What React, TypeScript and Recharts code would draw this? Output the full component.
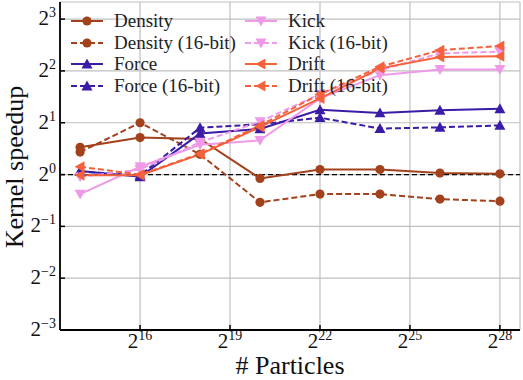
import React from 'react'
import {
  LineChart, Line, XAxis, YAxis, CartesianGrid, ReferenceLine, Legend,
} from 'recharts'

// particle counts, 2^14 ... 2^28
const particles = [16384, 65536, 262144, 1048576, 4194304, 16777216, 67108864, 268435456]

// kernel speedups
const density = [1.44, 1.64, 1.61, 0.95, 1.07, 1.07, 1.02, 1.01]
const density16 = [1.35, 2.0, 1.31, 0.69, 0.77, 0.77, 0.72, 0.70]
const force = [1.05, 0.97, 1.73, 1.84, 2.38, 2.28, 2.36, 2.41]
const force16 = [1.04, 0.99, 1.87, 1.96, 2.14, 1.85, 1.88, 1.93]
const kick = [0.77, 1.11, 1.49, 1.58, 2.77, 3.78, 4.08, 4.08]
const kick16 = [0.97, 1.07, 1.54, 2.03, 2.93, 4.03, 5.06, 5.17]
const drift = [0.99, 0.99, 1.31, 1.89, 2.77, 4.14, 4.82, 4.86]
const drift16 = [1.11, 1.0, 1.32, 1.93, 2.93, 4.23, 5.28, 5.58]

const xTicks = [65536, 524288, 4194304, 33554432, 268435456]
const yTicks = [0.125, 0.25, 0.5, 1, 2, 4, 8]

const FONT = '"Liberation Serif", "Times New Roman", serif'

type Shape = 'circle' | 'up' | 'down' | 'left'

const series: { key: string; name: string; color: string; dashed: boolean; shape: Shape }[] = [
  { key: 'density', name: 'Density', color: '#a3411d', dashed: false, shape: 'circle' },
  { key: 'density16', name: 'Density (16-bit)', color: '#a3411d', dashed: true, shape: 'circle' },
  { key: 'force', name: 'Force', color: '#3a1ca6', dashed: false, shape: 'up' },
  { key: 'force16', name: 'Force (16-bit)', color: '#3a1ca6', dashed: true, shape: 'up' },
  { key: 'kick', name: 'Kick', color: '#ef9ae8', dashed: false, shape: 'down' },
  { key: 'kick16', name: 'Kick (16-bit)', color: '#ef9ae8', dashed: true, shape: 'down' },
  { key: 'drift', name: 'Drift', color: '#f4613a', dashed: false, shape: 'left' },
  { key: 'drift16', name: 'Drift (16-bit)', color: '#f4613a', dashed: true, shape: 'left' },
]

const data = particles.map((n, i) => ({
  n,
  density: density[i], density16: density16[i],
  force: force[i], force16: force16[i],
  kick: kick[i], kick16: kick16[i],
  drift: drift[i], drift16: drift16[i],
}))

function Marker({ cx, cy, shape, color }: { cx: number; cy: number; shape: Shape; color: string }) {
  const r = 5.5
  if (shape === 'circle') return <circle cx={cx} cy={cy} r={4.6} fill={color} />
  let pts = ''
  if (shape === 'up') pts = `${cx},${cy - r} ${cx - r},${cy + r * 0.8} ${cx + r},${cy + r * 0.8}`
  if (shape === 'down') pts = `${cx},${cy + r} ${cx - r},${cy - r * 0.8} ${cx + r},${cy - r * 0.8}`
  if (shape === 'left') pts = `${cx - r},${cy} ${cx + r * 0.8},${cy - r} ${cx + r * 0.8},${cy + r}`
  return <polygon points={pts} fill={color} />
}

const textStyle = { fontFamily: FONT, fill: '#111' }

const Pow2 = ({ exp }: { exp: number }) => (
  <>
    <tspan>2</tspan>
    <tspan dy={-8} style={{ fontSize: 14 }}>{exp < 0 ? `\u2212${-exp}` : exp}</tspan>
  </>
)

const BottomTick = (props: any) => {
  const { x, y, payload } = props
  return (
    <g>
      <line x1={x} y1={y} x2={x} y2={y - 5} stroke="#000" strokeWidth={1.5} />
      <text x={x} y={y + 18} textAnchor="middle" style={{ ...textStyle, fontSize: 21 }}>
        <Pow2 exp={Math.round(Math.log2(payload.value))} />
      </text>
    </g>
  )
}

const LeftTick = (props: any) => {
  const { x, y, payload } = props
  return (
    <g>
      <line x1={x} y1={y} x2={x + 5} y2={y} stroke="#000" strokeWidth={1.5} />
      <text x={x - 4} y={y + 6} textAnchor="end" style={{ ...textStyle, fontSize: 21 }}>
        <Pow2 exp={Math.round(Math.log2(payload.value))} />
      </text>
    </g>
  )
}

const TopTick = (props: any) => (
  <line x1={props.x} y1={props.y} x2={props.x} y2={props.y + 5} stroke="#000" strokeWidth={1.5} />
)

const RightTick = (props: any) => (
  <line x1={props.x} y1={props.y} x2={props.x - 5} y2={props.y} stroke="#000" strokeWidth={1.5} />
)

const renderLegend = () => (
  <div style={{ display: 'grid', gridTemplateColumns: '174px 150px' }}>
    {[0, 4, 1, 5, 2, 6, 3, 7].map(i => {
      const s = series[i]
      return (
        <div key={s.key} style={{ display: 'flex', alignItems: 'center', height: 21.7 }}>
          <svg width={34} height={14} style={{ marginRight: 10 }}>
            <line x1={1} y1={7} x2={33} y2={7} stroke={s.color} strokeWidth={2}
              strokeDasharray={s.dashed ? '6 3' : undefined} />
            <Marker cx={17} cy={7} shape={s.shape} color={s.color} />
          </svg>
          <span style={{ fontFamily: FONT, fontSize: 19, color: '#222', whiteSpace: 'nowrap' }}>{s.name}</span>
        </div>
      )
    })}
  </div>
)

export default function App() {
  return (
    <div style={{ position: 'absolute', left: 0, top: 0, width: 523, height: 380, background: '#fff' }}>
      <LineChart width={523} height={380} data={data} margin={{ top: 2, right: 3, left: 0, bottom: 0 }}>
        <CartesianGrid stroke="#c0c0c0" strokeWidth={1.2} />
        <XAxis
          dataKey="n" type="number" scale="log" domain={[2 ** 13.33, 2 ** 28.67]} allowDataOverflow
          ticks={xTicks} interval={0} height={50} tickSize={0} tickMargin={0} tickLine={false}
          axisLine={{ stroke: '#000', strokeWidth: 1.8 }} tick={<BottomTick />}
          label={{
            content: () => (
              <text x={290} y={374} textAnchor="middle" style={{ ...textStyle, fontSize: 26 }}># Particles</text>
            ),
          }}
        />
        <XAxis
          xAxisId="top" orientation="top" dataKey="n" type="number" scale="log"
          domain={[2 ** 13.33, 2 ** 28.67]} allowDataOverflow ticks={xTicks} interval={0}
          height={0} tickSize={0} tickMargin={0} tickLine={false}
          axisLine={{ stroke: '#000', strokeWidth: 1.8 }} tick={<TopTick />}
        />
        <YAxis
          type="number" scale="log" domain={[0.125, 2 ** 3.33]} allowDataOverflow ticks={yTicks}
          interval={0} width={60} tickSize={0} tickMargin={0} tickLine={false}
          axisLine={{ stroke: '#000', strokeWidth: 1.8 }} tick={<LeftTick />}
          label={{
            content: () => (
              <text x={0} y={0} transform="translate(23,167) rotate(-90)" textAnchor="middle"
                style={{ ...textStyle, fontSize: 26 }}>Kernel speedup</text>
            ),
          }}
        />
        <YAxis
          yAxisId="right" orientation="right" type="number" scale="log" domain={[0.125, 2 ** 3.33]}
          allowDataOverflow ticks={yTicks} interval={0} width={0} tickSize={0} tickMargin={0}
          tickLine={false} axisLine={{ stroke: '#000', strokeWidth: 1.8 }} tick={<RightTick />}
        />
        <ReferenceLine y={1} stroke="#000" strokeWidth={1.3} strokeDasharray="5 3" />
        <Legend
          layout="horizontal" verticalAlign="middle" align="center"
          wrapperStyle={{ top: 10, left: 70, width: 340 }}
          content={renderLegend}
        />
        {series.map(s => (
          <Line
            key={s.key} dataKey={s.key} name={s.name} stroke={s.color} strokeWidth={2}
            strokeDasharray={s.dashed ? '6 3' : undefined} isAnimationActive={false}
            dot={(p: any) => <Marker key={`${s.key}-${p.index}`} cx={p.cx} cy={p.cy} shape={s.shape} color={s.color} />}
            activeDot={false}
          />
        ))}
      </LineChart>
    </div>
  )
}
